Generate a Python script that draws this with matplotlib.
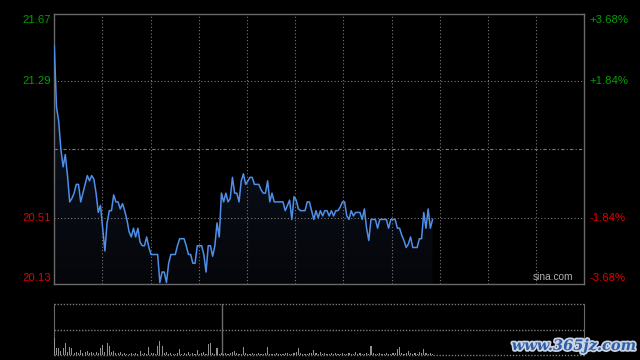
import numpy as np
import matplotlib
matplotlib.use("Agg")
import matplotlib.pyplot as plt
import matplotlib.transforms as mtrans
import matplotlib.patheffects as pe

# intraday minute prices (index 0 = 9:30)
prices = [21.49, 21.14, 21.06, 20.90, 20.80, 20.87, 20.75, 20.60, 20.62, 20.65,
          20.70, 20.70, 20.60, 20.65, 20.70, 20.75, 20.72, 20.75, 20.73, 20.65,
          20.54, 20.58, 20.45, 20.32, 20.48, 20.55, 20.55, 20.64, 20.60, 20.60,
          20.56, 20.59, 20.55, 20.50, 20.43, 20.40, 20.45, 20.40, 20.45, 20.37,
          20.35, 20.35, 20.40, 20.34, 20.30, 20.30, 20.30, 20.30, 20.14, 20.20,
          20.20, 20.14, 20.25, 20.30, 20.30, 20.30, 20.35, 20.39, 20.39, 20.39,
          20.35, 20.30, 20.30, 20.25, 20.25, 20.35, 20.35, 20.35, 20.30, 20.20,
          20.35, 20.35, 20.29, 20.35, 20.48, 20.40, 20.65, 20.60, 20.65, 20.60,
          20.62, 20.74, 20.65, 20.65, 20.60, 20.72, 20.76, 20.70, 20.72, 20.74,
          20.74, 20.70, 20.70, 20.70, 20.67, 20.65, 20.65, 20.72, 20.60, 20.65,
          20.60, 20.60, 20.60, 20.60, 20.60, 20.55, 20.58, 20.61, 20.50, 20.63,
          20.61, 20.56, 20.55, 20.55, 20.55, 20.60, 20.60, 20.55, 20.50, 20.55,
          20.51, 20.55, 20.52, 20.55, 20.55, 20.52, 20.55, 20.52, 20.55, 20.55,
          20.57, 20.60, 20.60, 20.52, 20.50, 20.55, 20.52, 20.54, 20.54, 20.54,
          20.50, 20.56, 20.45, 20.38, 20.50, 20.50, 20.50, 20.45, 20.50, 20.50,
          20.50, 20.50, 20.45, 20.50, 20.50, 20.50, 20.45, 20.45, 20.41, 20.38,
          20.34, 20.36, 20.40, 20.34, 20.34, 20.34, 20.39, 20.39, 20.54, 20.45,
          20.56, 20.45, 20.50]

# minute volumes (thousand shares)
volumes = [17, 7, 7, 4, 7, 12, 3, 8, 7, 2, 3, 2, 5, 2, 3, 4, 2, 3, 2, 3,
           2, 7, 10, 3, 12, 9, 3, 4, 2, 2, 3, 1, 2, 1, 1, 2, 1, 2, 1, 4,
           1, 2, 1, 8, 2, 2, 1, 9, 14, 9, 2, 3, 1, 2, 1, 1, 2, 6, 1, 2,
           1, 3, 1, 2, 1, 5, 1, 2, 3, 1, 11, 12, 2, 1, 7, 1, 2, 1, 2, 1,
           2, 3, 4, 2, 1, 1, 8, 2, 1, 1, 2, 1, 1, 2, 1, 1, 2, 8, 1, 1,
           1, 2, 1, 1, 1, 2, 2, 1, 1, 2, 3, 7, 2, 1, 1, 1, 2, 2, 5, 2,
           1, 3, 1, 2, 1, 1, 2, 1, 2, 1, 1, 2, 1, 1, 2, 1, 1, 3, 1, 2,
           1, 1, 2, 1, 9, 2, 1, 1, 2, 1, 1, 2, 1, 1, 2, 2, 6, 8, 2, 1,
           2, 4, 2, 1, 2, 1, 3, 2, 6, 2, 1, 2, 1]

prev_close = 20.90
price_ticks = [21.67, 21.29, 20.90, 20.51, 20.13]
pct_labels = ["+3.68%", "+1.84%", "", "-1.84%", "-3.68%"]
n_minutes = 241
vol_max = 51

bg = "black"
grid_c = "#7a7a7a"
frame_c = "#6a6a6a"
green = "#00a000"
red = "#dd0000"
line_c = "#4f8fea"

plt.rcParams["font.family"] = ["Liberation Sans", "DejaVu Sans"]

fig = plt.figure(figsize=(6.4, 3.6), dpi=100, facecolor=bg)
ax = fig.add_axes([54.3 / 640, 75.7 / 360, 530 / 640, 270 / 360], facecolor=bg)
axv = fig.add_axes([54.3 / 640, 4.7 / 360, 530 / 640, 51 / 360], facecolor=bg)

x = np.arange(len(prices))
ylo, yhi = price_ticks[-1], price_ticks[0]

# gradient fill under the price line
poly = ax.fill_between(x, prices, ylo, color="none", lw=0)
grad = np.linspace(0, 1, 256).reshape(-1, 1)
cmap = matplotlib.colors.LinearSegmentedColormap.from_list("g", ["#05060a", "#0e1626"])
im = ax.imshow(grad, aspect="auto", cmap=cmap, origin="lower",
               extent=[0, len(prices) - 1, ylo, max(prices)], zorder=1)
im.set_clip_path(poly.get_paths()[0], transform=ax.transData)
ax.plot(x, prices, color=line_c, lw=1.1, zorder=3)

ax.set_xlim(0, n_minutes)
ax.set_ylim(ylo, yhi)
ax.set_xticks([])
ax.set_yticks([])
for s in ax.spines.values():
    s.set_color(frame_c)
    s.set_linewidth(1)

# grid
for k in range(1, 11):
    ax.axvline(n_minutes * k / 11, color=grid_c, lw=0.8, ls=(0, (1, 2)), zorder=2)
for p in price_ticks[1:-1]:
    if p == prev_close:
        ax.axhline(p, color=grid_c, lw=0.8, ls=(0, (3, 2, 1, 2)), zorder=2)
    else:
        ax.axhline(p, color=grid_c, lw=0.8, ls=(0, (1, 2)), zorder=2)

# axis labels
trans_l = mtrans.blended_transform_factory(ax.transAxes, ax.transData)
for i, (p, pl) in enumerate(zip(price_ticks, pct_labels)):
    if p == prev_close:
        continue
    c = green if p > prev_close else red
    dy = -6 if i == 0 else (6 if i == len(price_ticks) - 1 else 0)
    ax.annotate(f"{p:.2f}", (0, p), xycoords=trans_l, xytext=(-3, dy),
                textcoords="offset pixels", ha="right", va="center",
                color=c, fontsize=8.2)
    ax.annotate(pl, (1, p), xycoords=trans_l, xytext=(5, dy),
                textcoords="offset pixels", ha="left", va="center",
                color=c, fontsize=8.2)

ax.text(0.979, 0.008, "sina.com", transform=ax.transAxes, ha="right",
        va="bottom", color="#b0b0b0", fontsize=7.3, zorder=4)

# volume panel
axv.bar(x, volumes, width=0.5, color="#929292", zorder=3)
axv.set_xlim(0, n_minutes)
axv.set_ylim(0, vol_max)
axv.set_xticks([])
axv.set_yticks([])
for side in ["top", "bottom"]:
    axv.spines[side].set_visible(False)
for side in ["left", "right"]:
    axv.spines[side].set_color(frame_c)
for v in [0, vol_max / 2, vol_max]:
    axv.axhline(v, color=grid_c, lw=1, ls=(0, (1, 1.2)), zorder=2, clip_on=False)
axv.axvline(76.3, color=frame_c, lw=1, zorder=2)

fig.text(574 / 640, 14 / 360, "www.365jz.com", ha="center", va="center",
         color="#2d5fa8", fontsize=10.5, fontweight="bold", style="italic",
         family="DejaVu Serif",
         path_effects=[pe.withStroke(linewidth=2.5, foreground="#c9d3e3")])

fig.savefig("out.png", dpi=100, facecolor=bg)
